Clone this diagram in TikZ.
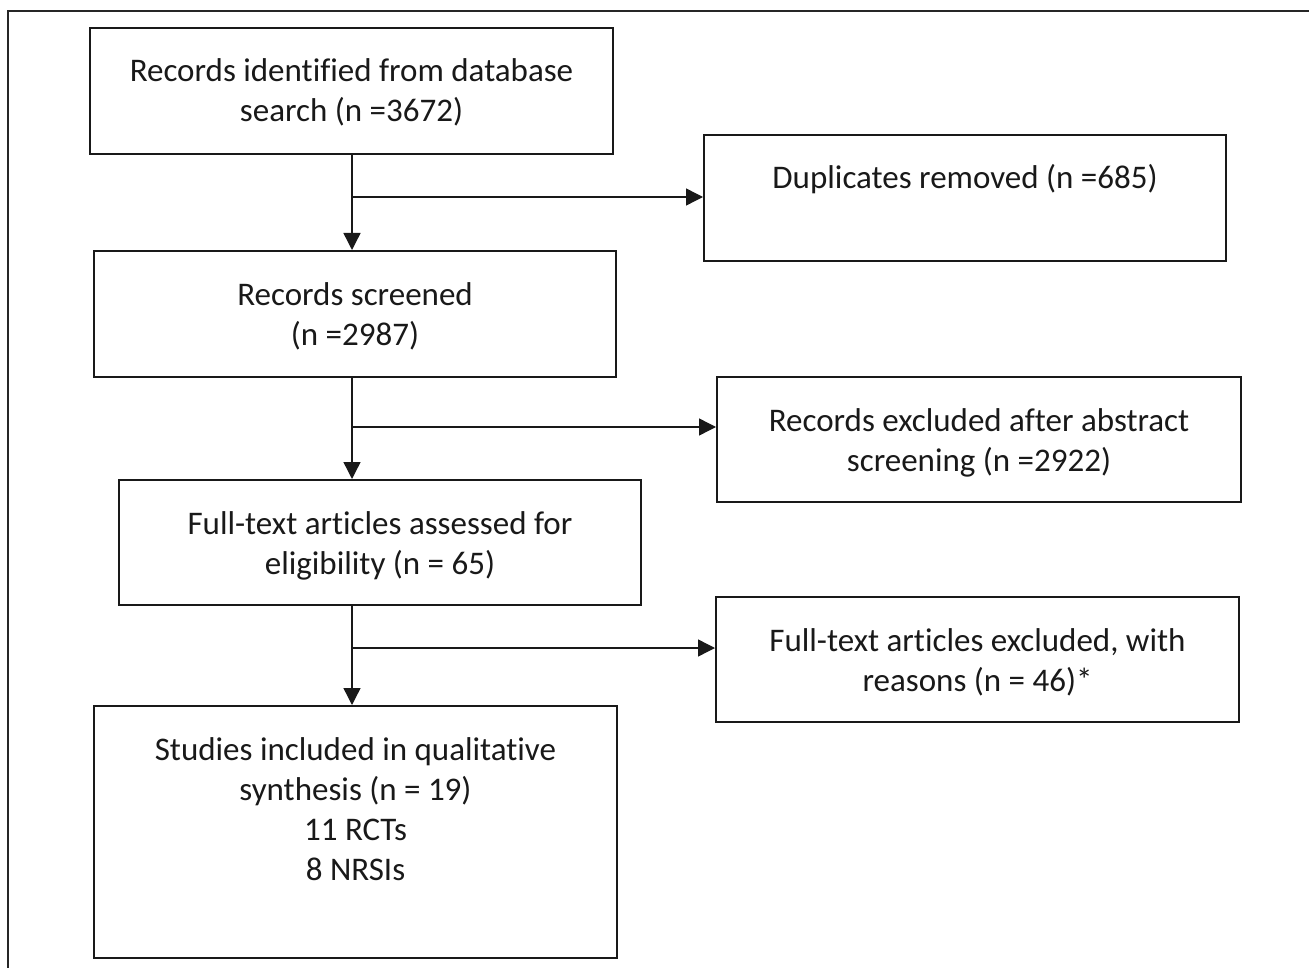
\documentclass[tikz,border=0pt]{standalone}
\usepackage{fontspec}
\setmainfont[Ligatures=NoCommon]{Carlito}
\usetikzlibrary{arrows.meta,calc}
\begin{document}
\begin{tikzpicture}[x=1pt,y=-1pt,
  box/.style={draw=black!90, line width=2pt, rectangle, inner sep=0pt, anchor=north west},
  txt/.style={align=center, inner sep=0pt, anchor=base, font=\fontsize{33}{40}\selectfont, text=black!90},
  arr/.style={draw=black!90, line width=1.4pt, -{Triangle[length=17pt,width=17pt]}}]
\useasboundingbox (0,0) rectangle (1309,968);
\fill[white] (0,0) rectangle (1309,968);
% outer frame (only top and left visible)
\draw[line width=1.5pt, black!85] (1309,11) -- (8,11) -- (8,968);
% boxes
\node[box, minimum width=523, minimum height=126] (A) at (89,27) {};
\node[box, minimum width=522, minimum height=126] (B) at (703,134) {};
\node[box, minimum width=522, minimum height=126] (C) at (93,250) {};
\node[box, minimum width=524, minimum height=125] (D) at (716,376) {};
\node[box, minimum width=522, minimum height=125] (E) at (118,479) {};
\node[box, minimum width=523, minimum height=125] (F) at (715,596) {};
\node[box, minimum width=523, minimum height=252] (G) at (93,705) {};
% texts (anchor=base is the baseline of the last line)
\node[txt] (At) at ($(A.north)+(0,95)$) {Records identified from database\\search (n =3672)};
\node[txt] (Bt) at ($(B.north)+(0,55)$) {Duplicates removed (n =685)};
\node[txt] (Ct) at ($(C.north)+(0,95)$) {Records screened\\(n =2987)};
\node[txt] (Dt) at ($(D.north)+(0,95)$) {Records excluded after abstract\\screening (n =2922)};
\node[txt] (Et) at ($(E.north)+(0,95)$) {Full-text articles assessed for\\eligibility (n = 65)};
\node[txt] (Ft) at ($(F.north)+(0,95)$) {Full-text articles excluded, with\\reasons (n = 46)*};
\node[txt] (Gt) at ($(G.north)+(0,175)$) {Studies included in qualitative\\synthesis (n = 19)\\11 RCTs\\8 NRSIs};
% connectors
\coordinate (j1) at (352,197);
\coordinate (j2) at (352,427);
\coordinate (j3) at (352,648);
\draw[arr] (A.south -| j1) -- (C.north -| j1);
\draw[arr] (j1) -- (j1 -| B.west);
\draw[arr] (C.south -| j2) -- (E.north -| j2);
\draw[arr] (j2) -- (j2 -| D.west);
\draw[arr] (E.south -| j3) -- (G.north -| j3);
\draw[arr] (j3) -- (j3 -| F.west);
\end{tikzpicture}
\end{document}
